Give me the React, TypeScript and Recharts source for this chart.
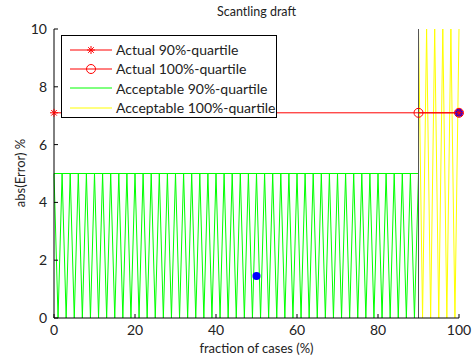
import React from 'react';
import { ComposedChart, Line, Scatter, XAxis, YAxis, ReferenceLine, Legend } from 'recharts';

const xTicks = [0, 20, 40, 60, 80, 100];
const yTicks = [0, 2, 4, 6, 8, 10];

// acceptable error envelope, 90%-quartile (0..90 % of cases); the trace runs back along the top
const acceptable90X = [
  0, 1, 2, 3, 4, 5, 6, 7, 8, 9, 10, 11, 12, 13, 14, 15, 16, 17, 18, 19, 20,
  21, 22, 23, 24, 25, 26, 27, 28, 29, 30, 31, 32, 33, 34, 35, 36, 37, 38, 39, 40,
  41, 42, 43, 44, 45, 46, 47, 48, 49, 50, 51, 52, 53, 54, 55, 56, 57, 58, 59, 60,
  61, 62, 63, 64, 65, 66, 67, 68, 69, 70, 71, 72, 73, 74, 75, 76, 77, 78, 79, 80,
  81, 82, 83, 84, 85, 86, 87, 88, 89, 90, 0,
];
const acceptable90Y = [
  5, 0, 5, 0, 5, 0, 5, 0, 5, 0, 5, 0, 5, 0, 5, 0, 5, 0, 5, 0, 5,
  0, 5, 0, 5, 0, 5, 0, 5, 0, 5, 0, 5, 0, 5, 0, 5, 0, 5, 0, 5,
  0, 5, 0, 5, 0, 5, 0, 5, 0, 5, 0, 5, 0, 5, 0, 5, 0, 5, 0, 5,
  0, 5, 0, 5, 0, 5, 0, 5, 0, 5, 0, 5, 0, 5, 0, 5, 0, 5, 0, 5,
  0, 5, 0, 5, 0, 5, 0, 5, 0, 5, 5,
];

// acceptable error envelope, 100%-quartile (90..100 % of cases)
const acceptable100X = [90, 91, 92, 93, 94, 95, 96, 97, 98, 99, 100];
const acceptable100Y = [10, 0, 10, 0, 10, 0, 10, 0, 10, 0, 10];

const actual90X = [0, 100];
const actual90Y = [7.1, 7.1];
const actual100X = [90, 100];
const actual100Y = [7.1, 7.1];

const caseX = [50, 100];
const caseY = [1.45, 7.1];

const legendNames = ['Actual 90%-quartile', 'Actual 100%-quartile', 'Acceptable 90%-quartile', 'Acceptable 100%-quartile'];
const legendColors = ['#ff0000', '#ff0000', '#00ff00', '#ffff00'];
const legendMarkers = ['star', 'circle', 'none', 'none'];

const toPoints = (xs: number[], ys: number[]) => xs.map((x, i) => ({ x, y: ys[i] }));

const FONT = 'Lato, "DejaVu Sans", sans-serif';
const TICK = 4;
const MARGIN = 7;

const Asterisk = ({ cx, cy, color }: any) => {
  if (cx == null || cy == null) return null;
  const r = 4;
  const d = r * 0.7;
  return (
    <g stroke={color} strokeWidth={1}>
      <line x1={cx - r} y1={cy} x2={cx + r} y2={cy} />
      <line x1={cx} y1={cy - r} x2={cx} y2={cy + r} />
      <line x1={cx - d} y1={cy - d} x2={cx + d} y2={cy + d} />
      <line x1={cx - d} y1={cy + d} x2={cx + d} y2={cy - d} />
    </g>
  );
};

const Ring = ({ cx, cy, color }: any) => {
  if (cx == null || cy == null) return null;
  return <circle cx={cx} cy={cy} r={4.5} fill="none" stroke={color} strokeWidth={1} />;
};

const BottomTick = ({ x, y, payload }: any) => (
  <g>
    <line x1={x} y1={y - MARGIN} x2={x} y2={y - MARGIN - TICK} stroke="#000" />
    <text x={x} y={y} dy="0.71em" textAnchor="middle" fontSize={14} fill="#222" fontFamily={FONT}>
      {payload.value}
    </text>
  </g>
);

const LeftTick = ({ x, y, payload }: any) => (
  <g>
    <line x1={x + MARGIN} y1={y} x2={x + MARGIN + TICK} y2={y} stroke="#000" />
    <text x={x} y={y} dy="0.36em" textAnchor="end" fontSize={14} fill="#222" fontFamily={FONT}>
      {payload.value}
    </text>
  </g>
);

const TopTick = ({ x, y }: any) => <line x1={x} y1={y} x2={x} y2={y + TICK} stroke="#000" />;
const RightTick = ({ x, y }: any) => <line x1={x} y1={y} x2={x - TICK} y2={y} stroke="#000" />;

const LegendBox = () => (
  <div
    style={{
      width: 216,
      height: 83,
      boxSizing: 'border-box',
      border: '1px solid #000',
      background: '#fff',
      padding: '4px 0 0 7px',
      fontFamily: FONT,
      fontSize: 14,
      color: '#222',
    }}
  >
    {legendNames.map((name, i) => (
      <div key={name} style={{ display: 'flex', alignItems: 'center', height: 19.3 }}>
        <svg width={47} height={12} style={{ flexShrink: 0 }}>
          <line x1={1} y1={6} x2={43} y2={6} stroke={legendColors[i]} strokeWidth={1} />
          {legendMarkers[i] === 'star' && <Asterisk cx={22} cy={6} color={legendColors[i]} />}
          {legendMarkers[i] === 'circle' && <Ring cx={22} cy={6} color={legendColors[i]} />}
        </svg>
        <span style={{ whiteSpace: 'nowrap' }}>{name}</span>
      </div>
    ))}
  </div>
);

export default function App() {
  return (
    <div style={{ position: 'absolute', left: 0, top: 0, width: 474, height: 360, background: '#fff', fontFamily: FONT }}>
      <div style={{ position: 'absolute', left: 54, width: 405, top: 4, textAlign: 'center', fontSize: 12.5, color: '#222' }}>
        Scantling draft
      </div>
      <div style={{ position: 'absolute', left: 54, width: 405, top: 340, textAlign: 'center', fontSize: 13, color: '#222' }}>
        fraction of cases (%)
      </div>
      <div
        style={{
          position: 'absolute',
          left: 20,
          top: 173,
          transform: 'translate(-50%, -50%) rotate(-90deg)',
          fontSize: 13,
          color: '#222',
          whiteSpace: 'nowrap',
        }}
      >
        abs(Error) %
      </div>
      <ComposedChart width={474} height={360} margin={{ top: 29, right: 15, bottom: 12, left: 0 }}>
        <XAxis
          xAxisId="bottom"
          dataKey="x"
          type="number"
          domain={[0, 100]}
          ticks={xTicks}
          interval={0}
          height={30}
          tickSize={0}
          tickMargin={MARGIN}
          tickLine={false}
          tick={BottomTick}
          axisLine={{ stroke: '#000' }}
        />
        <XAxis
          xAxisId="top"
          orientation="top"
          dataKey="x"
          type="number"
          domain={[0, 100]}
          ticks={xTicks}
          interval={0}
          height={0}
          tickSize={0}
          tickMargin={0}
          tickLine={false}
          tick={TopTick}
          axisLine={{ stroke: '#000' }}
        />
        <YAxis
          yAxisId="left"
          type="number"
          domain={[0, 10]}
          ticks={yTicks}
          interval={0}
          width={54}
          tickSize={0}
          tickMargin={MARGIN}
          tickLine={false}
          tick={LeftTick}
          axisLine={{ stroke: '#000' }}
        />
        <YAxis
          yAxisId="right"
          orientation="right"
          type="number"
          domain={[0, 10]}
          ticks={yTicks}
          interval={0}
          width={0}
          tickSize={0}
          tickMargin={0}
          tickLine={false}
          tick={RightTick}
          axisLine={{ stroke: '#000' }}
        />
        <Line
          xAxisId="bottom"
          yAxisId="left"
          data={toPoints(acceptable90X, acceptable90Y)}
          dataKey="y"
          type="linear"
          stroke="#00ff00"
          strokeWidth={1}
          dot={false}
          isAnimationActive={false}
        />
        <Line
          xAxisId="bottom"
          yAxisId="left"
          data={toPoints(acceptable100X, acceptable100Y)}
          dataKey="y"
          type="linear"
          stroke="#ffff00"
          strokeWidth={1}
          dot={false}
          isAnimationActive={false}
        />
        <ReferenceLine xAxisId="bottom" yAxisId="left" x={90} stroke="#555" strokeWidth={1} />
        <Line
          xAxisId="bottom"
          yAxisId="left"
          data={toPoints(actual90X, actual90Y)}
          dataKey="y"
          type="linear"
          stroke="#ff0000"
          strokeWidth={1}
          dot={(p: any) => <Asterisk key={`a90-${p.index}`} cx={p.cx} cy={p.cy} color="#ff0000" />}
          isAnimationActive={false}
        />
        <Line
          xAxisId="bottom"
          yAxisId="left"
          data={toPoints(actual100X, actual100Y)}
          dataKey="y"
          type="linear"
          stroke="#ff0000"
          strokeWidth={1}
          dot={(p: any) => <Ring key={`a100-${p.index}`} cx={p.cx} cy={p.cy} color="#ff0000" />}
          isAnimationActive={false}
        />
        <Scatter
          xAxisId="bottom"
          yAxisId="left"
          data={toPoints(caseX, caseY)}
          dataKey="y"
          fill="#0000ff"
          shape={(p: any) => <circle cx={p.cx} cy={p.cy} r={4} fill="#0000ff" />}
          isAnimationActive={false}
        />
        <Legend
          layout="horizontal"
          align="center"
          verticalAlign="middle"
          content={<LegendBox />}
          wrapperStyle={{ left: 61, top: 35, width: 216, height: 83 }}
        />
      </ComposedChart>
    </div>
  );
}
